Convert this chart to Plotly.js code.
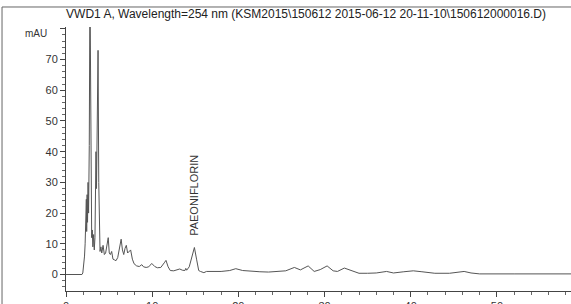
<!DOCTYPE html>
<html>
<head>
<meta charset="utf-8">
<script src="https://cdn.plot.ly/plotly-3.0.1.min.js"></script>
<style>html,body{margin:0;padding:0;background:#fff;}#chart{width:571px;height:304px;}</style>
</head>
<body>
<div id="chart"></div>
<script>
// Retention time (min)
var timeMin = [0, 1.85, 1.95, 2.05, 2.15, 2.22, 2.3, 2.36, 2.4, 2.45, 2.5, 2.56, 2.62, 2.7, 2.78, 2.86, 2.92, 2.98, 3.05, 3.12, 3.2, 3.28, 3.36, 3.42, 3.48, 3.54, 3.62, 3.72, 3.8, 3.86, 3.95, 4.05, 4.15, 4.3, 4.45, 4.6, 4.75, 4.9, 5.02, 5.15, 5.3, 5.45, 5.6, 5.8, 6.0, 6.2, 6.4, 6.55, 6.7, 6.85, 7.0, 7.15, 7.3, 7.5, 7.7, 7.9, 8.2, 8.5, 8.8, 9.0, 9.3, 9.6, 9.95, 10.3, 10.6, 11.0, 11.4, 11.6, 11.85, 12.1, 12.5, 12.9, 13.2, 13.5, 13.8, 13.9, 14.0, 14.3, 14.6, 14.9, 15.15, 15.4, 15.6, 16.0, 16.3, 17, 18, 19, 19.7, 20.5, 21.5, 22.5, 23.5, 24.5, 25.5, 26.5, 27.2, 28.1, 28.8, 29.5, 30.3, 31.0, 31.5, 32.3, 33.2, 34.0, 35, 36, 37.2, 38, 39.2, 40.3, 41.3, 42.8, 44.5, 46.2, 47.0, 48.0, 52, 58.6];
// Absorbance (mAU)
var absorbance = [0, 0, 0.5, 3, 6, 10, 16, 24.5, 14, 26, 17, 30, 20, 42, 95, 40, 18, 12, 14.5, 9, 13, 8, 12, 26, 40, 28, 48, 73, 30, 10, 7.5, 9, 7, 9.5, 6.5, 7, 9, 12, 7, 6.5, 7.5, 5, 4.8, 4.5, 5.5, 8, 11.5, 8, 6.5, 8.5, 9.5, 7, 7.5, 8, 5, 3.5, 2.8, 2.6, 3.2, 2.5, 2.3, 2.5, 3.6, 2.6, 2.2, 2.3, 3.8, 4.6, 2.5, 1.3, 1.2, 1.5, 1.8, 1.4, 1.3, 2.0, 1.4, 2.5, 5.5, 8.8, 5, 1.3, 1.0, 0.6, 1.0, 1.0, 1.0, 1.3, 1.9, 1.3, 1.0, 0.9, 0.8, 1.0, 1.2, 2.3, 1.5, 2.8, 1.0, 1.6, 2.8, 1.2, 1.0, 2.1, 1.3, 0.4, 0.4, 0.5, 1.0, 0.5, 0.9, 1.2, 0.9, 0.4, 0.4, 1.0, 0.5, 0.2, 0.2, 0.2];

var xTickVals = [0, 10, 20, 30, 40, 50];
var xTickText = ['0', '10', '20', '30', '40', '50'];
var yTickVals = [0, 10, 20, 30, 40, 50, 60, 70, 80];
var yTickText = ['0', '10', '20', '30', '40', '50', '60', '70', ''];

var peakName = 'PAEONIFLORIN';
var peakTime = 14.9;
var peakLabelY = 11.9;

var titleText = 'VWD1 A, Wavelength=254 nm (KSM2015\\150612 2015-06-12 20-11-10\\150612000016.D)';

var FONT = 'Arial, "Liberation Sans", sans-serif';

var trace = {
  x: timeMin, y: absorbance, type: 'scatter', mode: 'lines',
  line: {color: '#555', width: 1}, hoverinfo: 'none'
};

var layout = {
  width: 571, height: 304,
  margin: {l: 66, r: 0, t: 27, b: 13, pad: 0},
  paper_bgcolor: '#fff', plot_bgcolor: '#fff',
  showlegend: false,
  font: {family: FONT, size: 11, color: '#333'},
  title: {text: titleText, font: {family: FONT, size: 12, color: '#222'},
          x: 0.536, xref: 'container', xanchor: 'center', y: 0.954, yref: 'container', yanchor: 'middle'},
  xaxis: {range: [0, 58.6], tickmode: 'array', tickvals: xTickVals, ticktext: xTickText,
          ticks: 'outside', ticklen: 5, tickcolor: '#444', tickwidth: 1,
          minor: {dtick: 2, tick0: 0, ticks: 'outside', ticklen: 3, tickcolor: '#666'},
          showline: true, linecolor: '#444', linewidth: 1, showgrid: false, zeroline: false,
          tickfont: {family: FONT, size: 11, color: '#333'}},
  yaxis: {range: [-5.37, 80.6], tickmode: 'array', tickvals: yTickVals, ticktext: yTickText,
          ticks: 'outside', ticklen: 5, tickcolor: '#444', tickwidth: 1,
          minor: {dtick: 2, tick0: 0, ticks: 'outside', ticklen: 3, tickcolor: '#666'},
          showline: true, linecolor: '#444', linewidth: 1, showgrid: false, zeroline: false,
          tickfont: {family: FONT, size: 11, color: '#333'}},
  annotations: [
    {text: peakName, x: peakTime, y: peakLabelY, xref: 'x', yref: 'y', textangle: -90,
     xanchor: 'center', yanchor: 'bottom', showarrow: false,
     font: {family: FONT, size: 11, color: '#333'}},
    {text: 'mAU', x: -0.059, y: 0.977, xref: 'paper', yref: 'paper', xanchor: 'center', yanchor: 'middle',
     showarrow: false, font: {family: FONT, size: 10, color: '#333'}}
  ],
  shapes: [
    {type: 'rect', xref: 'paper', yref: 'paper', x0: -0.1267, x1: 1.01, y0: -0.2, y1: 1.0758,
     line: {color: '#666', width: 1}, fillcolor: 'rgba(0,0,0,0)', layer: 'below'}
  ]
};

Plotly.newPlot('chart', [trace], layout, {displayModeBar: false, staticPlot: true});
</script>
</body>
</html>
